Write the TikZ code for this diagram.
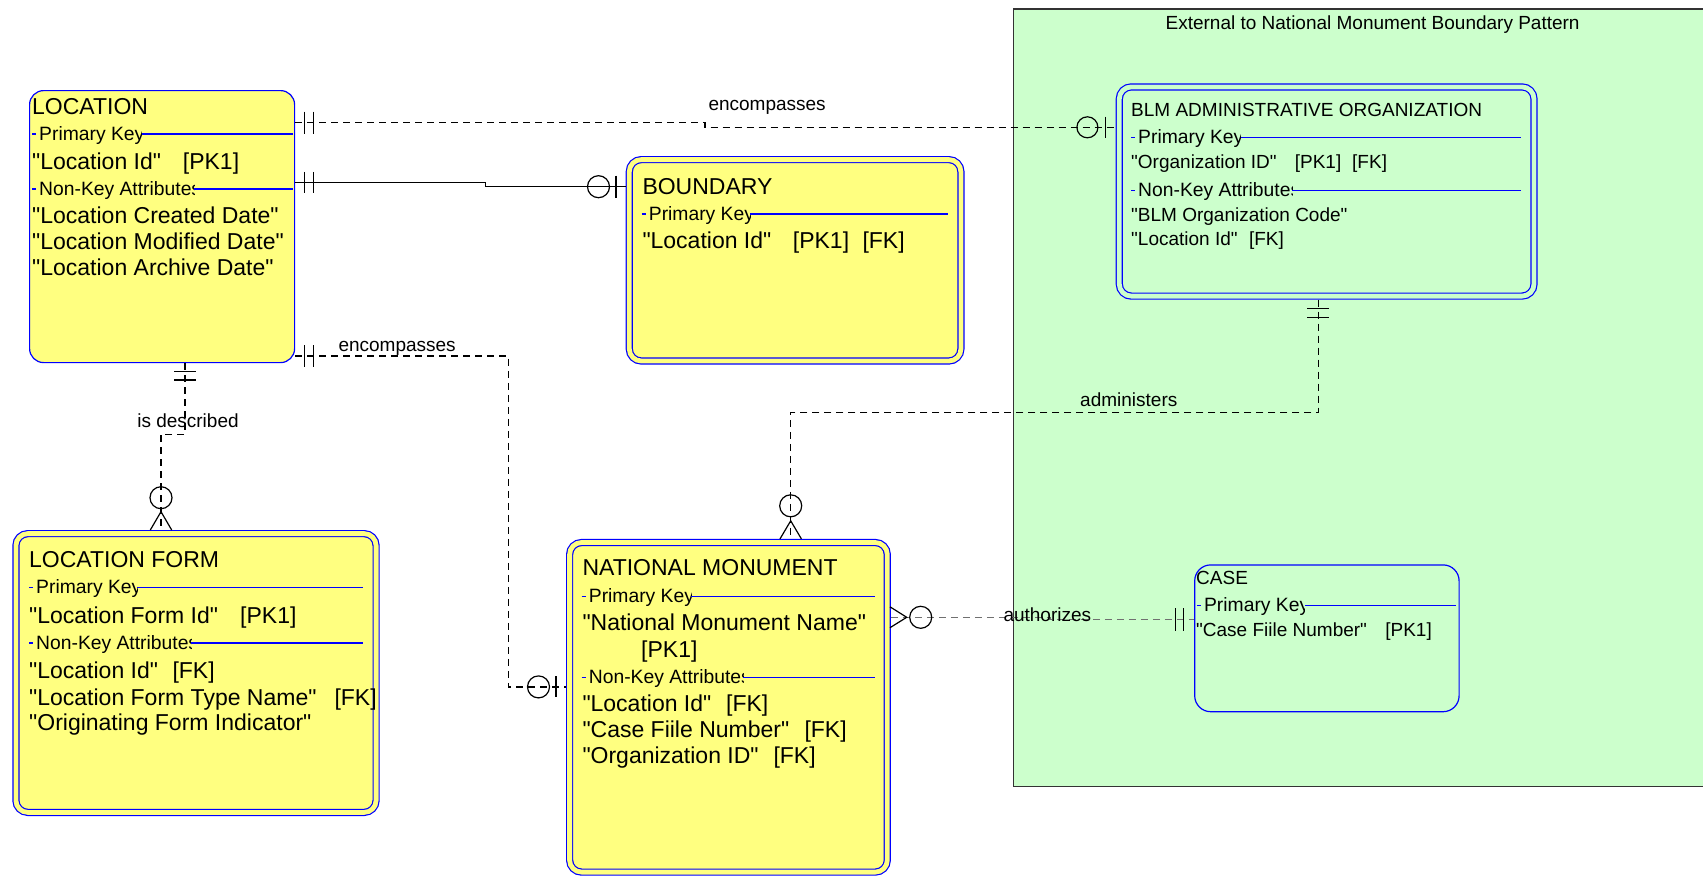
\documentclass[tikz,border=0pt]{standalone}
\usepackage{fontspec}
\setmainfont{Liberation Sans}[Ligatures=TeXOff]
\definecolor{yel}{HTML}{FFFF80}
\definecolor{grn}{HTML}{CCFFCC}
\definecolor{eblue}{HTML}{0000FF}
\definecolor{dgray}{HTML}{707070}
\tikzset{
  ent/.style={draw=eblue, line width=1.2pt, fill=yel, rounded corners=14pt, inner sep=0pt, outer sep=0.6pt, anchor=north west},
  entd/.style={draw=eblue, line width=1.2pt, fill=yel, double=yel, double distance=4.8pt, rounded corners=12pt, inner sep=0pt, outer sep=3.6pt, anchor=north west},
  entdg/.style={entd, fill=grn, double=grn},
  entg/.style={draw=eblue, line width=1.2pt, rounded corners=16pt, inner sep=0pt, outer sep=0.6pt, anchor=north west},
  big/.style={font=\fontsize{23}{26}\selectfont, inner sep=0pt, anchor=base west},
  sml/.style={font=\fontsize{19}{22}\selectfont, inner sep=0pt, anchor=base west},
  sec/.style={font=\fontsize{19.3}{22}\selectfont, inner sep=0pt, anchor=base west},
  lbl/.style={font=\fontsize{19}{22}\selectfont, inner sep=0pt, anchor=base west},
  bl/.style={draw=eblue, line width=1.2pt},
  conn/.style={line width=1.2pt, draw=black},
  dsh/.style={dash pattern=on 7pt off 5pt},
  mk/.style={line width=1.2pt, draw=black},
}
\newcommand\sectline[6]{%
  \draw[bl] (#2,#3-6) -- (#2+4,#3-6);
  \begin{scope}
    \clip (#2,#3-25) rectangle (#4,#3+8);
    \node[sec] (#1) at (#2+7,#3) {#6};
  \end{scope}
  \draw[bl] (#4,#3-6) -- (#5,#3-6);
}
\begin{document}
\begin{tikzpicture}[x=1pt, y=-1pt]
\useasboundingbox (0,0) rectangle (1703,876);

% green region
\fill[grn] (1013.4,9) rectangle (1703,786.7);
\draw[line width=1.3pt, black!80] (1703,9) -- (1013.4,9) -- (1013.4,786.7) -- (1703,786.7);
\node[lbl, anchor=base] (gtitle) at (1372.6,29.3) {External to National Monument Boundary Pattern};

% ---------- entities ----------
\node[ent, minimum width=265pt, minimum height=272pt] (loc) at (29,90) {};
\node[entd, minimum width=331.6pt, minimum height=201.4pt] (bnd) at (625.7,156) {};
\node[entdg, minimum width=414.7pt, minimum height=209.2pt] (blm) at (1115.7,83.3) {};
\node[entd, minimum width=360.2pt, minimum height=278.8pt] (lf) at (12.3,530) {};
\node[entd, minimum width=317.7pt, minimum height=329.6pt] (nm) at (566,538.9) {};
\node[entg, minimum width=264.4pt, minimum height=146.8pt] (case) at (1194.1,564.3) {};

% LOCATION
\node[big] (loc-t) at (32,114.3) {LOCATION};
\sectline{loc-pk}{32}{140}{141.7}{293}{Primary Key}
\node[big] (loc-a1) at (32,169.3) {"Location Id"};
\node[big] (loc-a1k) at (182.7,169.3) {[PK1]};
\sectline{loc-nk}{32}{195}{194.3}{293}{Non-Key Attributes}
\node[big] (loc-a2) at (32,223.5) {"Location Created Date"};
\node[big] (loc-a3) at (32,249.5) {"Location Modified Date"};
\node[big] (loc-a4) at (32,275.5) {"Location Archive Date"};

% BOUNDARY
\node[big] (bnd-t) at (642.3,194) {BOUNDARY};
\sectline{bnd-pk}{641.7}{220}{750}{947.7}{Primary Key}
\node[big] (bnd-a1) at (642.3,248.3) {"Location Id"};
\node[big] (bnd-a1k) at (792.7,248.3) {[PK1]};
\node[big] (bnd-a1f) at (862.3,248.3) {[FK]};

% BLM ADMINISTRATIVE ORGANIZATION
\node[sml] (blm-t) at (1131,116.7) {BLM ADMINISTRATIVE ORGANIZATION};
\sectline{blm-pk}{1131}{143.5}{1240.8}{1521}{Primary Key}
\node[sml] (blm-a1) at (1131,168.3) {"Organization ID"};
\node[sml] (blm-a1k) at (1294.6,168.3) {[PK1]};
\node[sml] (blm-a1f) at (1352,168.3) {[FK]};
\sectline{blm-nk}{1131}{196.5}{1292.3}{1521}{Non-Key Attributes}
\node[sml] (blm-a2) at (1131,221) {"BLM Organization Code"};
\node[sml] (blm-a3) at (1131,245) {"Location Id"};
\node[sml] (blm-a3f) at (1248.8,245) {[FK]};

% LOCATION FORM
\node[big] (lf-t) at (29,567.7) {LOCATION FORM};
\sectline{lf-pk}{29}{593.7}{137.3}{363.3}{Primary Key}
\node[big] (lf-a1) at (29,623.3) {"Location Form Id"};
\node[big] (lf-a1k) at (240,623.3) {[PK1]};
\sectline{lf-nk}{29}{649}{191}{363.3}{Non-Key Attributes}
\node[big] (lf-a2) at (29,678.3) {"Location Id"};
\node[big] (lf-a2f) at (172.3,678.3) {[FK]};
\node[big] (lf-a3) at (29,705) {"Location Form Type Name"};
\node[big] (lf-a3f) at (334.3,705) {[FK]};
\node[big] (lf-a4) at (29,730) {"Originating Form Indicator"};

% NATIONAL MONUMENT
\node[big] (nm-t) at (582.3,575.5) {NATIONAL MONUMENT};
\sectline{nm-pk}{581.7}{602.4}{691}{875}{Primary Key}
\node[big] (nm-a1) at (582.3,630.1) {"National Monument Name"};
\node[big] (nm-a1k) at (641,657.3) {[PK1]};
\sectline{nm-nk}{581.7}{683.1}{743.3}{875}{Non-Key Attributes}
\node[big] (nm-a2) at (582.3,711.3) {"Location Id"};
\node[big] (nm-a2f) at (726,711.3) {[FK]};
\node[big] (nm-a3) at (582.3,737.4) {"Case Fiile Number"};
\node[big] (nm-a3f) at (804.3,737.4) {[FK]};
\node[big] (nm-a4) at (582.3,763.5) {"Organization ID"};
\node[big] (nm-a4f) at (773.3,763.5) {[FK]};

% CASE
\node[sml] (case-t) at (1196,584.3) {CASE};
\sectline{case-pk}{1196.9}{611.7}{1304.8}{1456.3}{Primary Key}
\node[sml] (case-a1) at (1196,636.7) {"Case Fiile Number"};
\node[sml] (case-a1k) at (1385.1,636.7) {[PK1]};

% ---------- connectors ----------
% 1: LOCATION -- BLM (encompasses)
\draw[conn,dsh] (loc.east |- 0,122.7) -- (705,122.7) -- (705,127.3) -- (blm.west |- 0,127.3);
\draw[mk] (304.5,111.7) -- (304.5,133.7) (313.3,111.7) -- (313.3,133.7);
\draw[mk] (1087.4,127.3) circle[radius=10.5];
\draw[mk] (1105.4,116.5) -- (1105.4,138.1);
\node[lbl] (l-enc1) at (708.3,110) {encompasses};

% 2: LOCATION -- BOUNDARY (solid)
\draw[conn] (loc.east |- 0,182.3) -- (485.7,182.3) -- (485.7,186.7) -- (bnd.west |- 0,186.7);
\draw[mk] (304.5,171.8) -- (304.5,193.3) (313.3,171.8) -- (313.3,193.3);
\draw[mk] (598.5,186.7) circle[radius=11];
\draw[mk] (616,175.5) -- (616,197.5);

% 3: LOCATION -- LOCATION FORM (is described)
\draw[conn,dsh] (loc.south -| 185,0) -- (185,434.3) -- (161,434.3) -- (lf.north -| 161,0);
\draw[mk] (174,371.7) -- (196,371.7) (174,380) -- (196,380);
\draw[mk] (161,497.7) circle[radius=11];
\draw[mk] (150.3,530) -- (161,511.7) -- (171.7,530);
\node[lbl, anchor=base] (l-desc) at (188,427.3) {is described};

% 4: LOCATION -- NATIONAL MONUMENT (encompasses)
\draw[conn,dsh] (loc.east |- 0,356) -- (508.3,356) -- (508.3,686.9) -- (nm.west |- 0,686.9);
\draw[mk] (304.5,345) -- (304.5,367) (313.3,345) -- (313.3,367);
\draw[mk] (538.5,686.9) circle[radius=11];
\draw[mk] (556,676.4) -- (556,697.3);
\node[lbl] (l-enc2) at (338.3,351.7) {encompasses};

% 5: BLM -- NATIONAL MONUMENT (administers)
\draw[conn,dsh] (blm.south -| 1318.5,0) -- (1318.5,412.5) -- (790.7,412.5) -- (nm.north -| 790.7,0);
\draw[mk] (1307.3,308.7) -- (1329.3,308.7) (1307.3,317.3) -- (1329.3,317.3);
\draw[mk] (790.7,505.8) circle[radius=11];
\draw[mk] (780,538.9) -- (790.7,520.8) -- (801.4,538.9);
\node[lbl] (l-adm) at (1080,406.7) {administers};

% 6: NATIONAL MONUMENT -- CASE (authorizes)
\draw[conn,dsh,draw=dgray] (nm.east |- 0,617.3) -- (1050,617.3) -- (1050,619.3) -- (case.west |- 0,619.3);
\draw[mk] (890,606.8) -- (906.7,617.3) -- (890,627.7);
\draw[mk] (920.7,617.3) circle[radius=11];
\draw[mk] (1175.7,608.3) -- (1175.7,630.7) (1183.3,608.3) -- (1183.3,630.7);
\node[lbl] (l-auth) at (1003.3,621.7) {authorizes};
\end{tikzpicture}
\end{document}
